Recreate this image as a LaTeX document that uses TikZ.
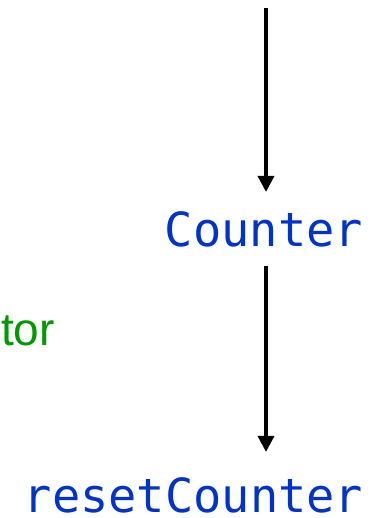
\documentclass[tikz,border=0pt]{standalone}
\usepackage{fontspec}
\setmainfont{Liberation Sans}
\newfontfamily\codefont{DejaVu Sans Mono}
\usetikzlibrary{arrows.meta}
\definecolor{codeblue}{RGB}{0,51,204}
\definecolor{labgreen}{RGB}{0,153,0}
\begin{document}
\begin{tikzpicture}[x=1pt,y=-1pt,
  codetext/.style={font=\codefont\fontsize{47}{56}\selectfont, text=codeblue, inner xsep=0pt, inner ysep=19pt, anchor=base},
  flow/.style={line width=3.5pt, -{Triangle[width=16pt,length=16pt]}}]
\useasboundingbox (0,0) rectangle (385,518);
\coordinate (top) at (266,8);
\node[codetext] (counter) at (264,246) {Counter};
\node[codetext, inner ysep=1pt] (reset) at (193.5,512) {resetCounter};
\node[font=\fontsize{46}{55}\selectfont, text=labgreen, anchor=base east, inner sep=0pt] (tor) at (55,345) {tor};
\draw[flow] (top) -- (top |- counter.north);
\draw[flow, shorten >=24pt] (top |- counter.south) -- (top |- reset.north);
\end{tikzpicture}
\end{document}
